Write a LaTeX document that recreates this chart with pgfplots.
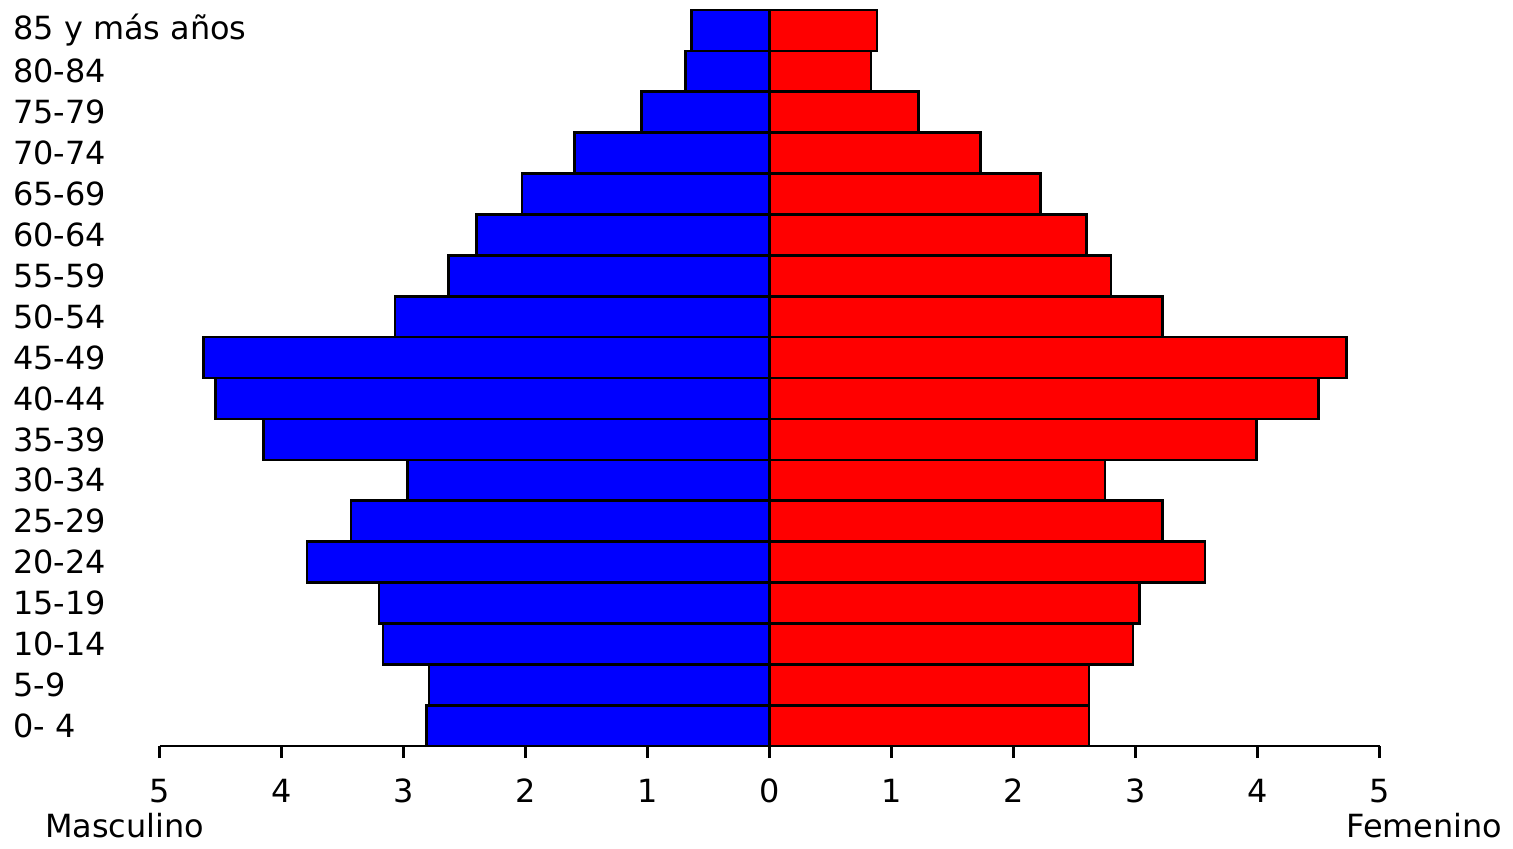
\documentclass[border=0pt]{standalone}
\usepackage{fontspec}
\setmainfont{DejaVu Sans}
\usepackage{pgfplots}
\pgfplotsset{compat=1.18}
\begin{document}
\fontsize{16}{19}\selectfont
\begin{tikzpicture}
\begin{axis}[
    scale only axis,
    width=611.5pt, height=369pt,
    xmin=-5, xmax=5,
    ymin=-0.5, ymax=17.5,
    xbar, bar width=1, bar shift=0,
    clip=false,
    axis x line*=bottom,
    axis y line*=left,
    axis line style={-, line width=1.2pt},
    y axis line style={draw=none},
    xtick={-5,-4,-3,-2,-1,0,1,2,3,4,5},
    xticklabels={5,4,3,2,1,0,1,2,3,4,5},
    tick align=outside,
    major tick length=6pt,
    xtick style={line width=1.2pt, black},
    ytick style={draw=none},
    ytick={0,...,17},
    yticklabels={0- 4,5-9,10-14,15-19,20-24,25-29,30-34,35-39,40-44,45-49,50-54,55-59,60-64,65-69,70-74,75-79,80-84,85 y más años},
    yticklabel style={anchor=west, inner sep=0pt, xshift=-67.5pt},
    xticklabel style={anchor=center, yshift=-16.5pt},
    tick label style={font=\fontsize{16}{19}\selectfont},
    /pgf/number format/assume math mode=true,
]
% Masculino (negative)
\addplot[fill=blue, draw=black, line width=1.3pt] coordinates {
(-2.81,0) (-2.79,1) (-3.17,2) (-3.20,3) (-3.79,4) (-3.43,5) (-2.97,6) (-4.15,7) (-4.54,8)
(-4.64,9) (-3.07,10) (-2.63,11) (-2.40,12) (-2.03,13) (-1.60,14) (-1.05,15) (-0.69,16) (-0.64,17)
};
% Femenino
\addplot[fill=red, draw=black, line width=1.3pt] coordinates {
(2.62,0) (2.62,1) (2.98,2) (3.03,3) (3.57,4) (3.22,5) (2.75,6) (3.99,7) (4.50,8)
(4.73,9) (3.22,10) (2.80,11) (2.60,12) (2.22,13) (1.73,14) (1.22,15) (0.83,16) (0.88,17)
};
\node at (rel axis cs:-0.0286,-0.1084) {Masculino};
\node at (rel axis cs:1.0368,-0.1084) {Femenino};
\path (rel axis cs:-0.1308,-0.1287) rectangle (rel axis cs:1.1063,1.01355);
\end{axis}
\end{tikzpicture}
\end{document}
